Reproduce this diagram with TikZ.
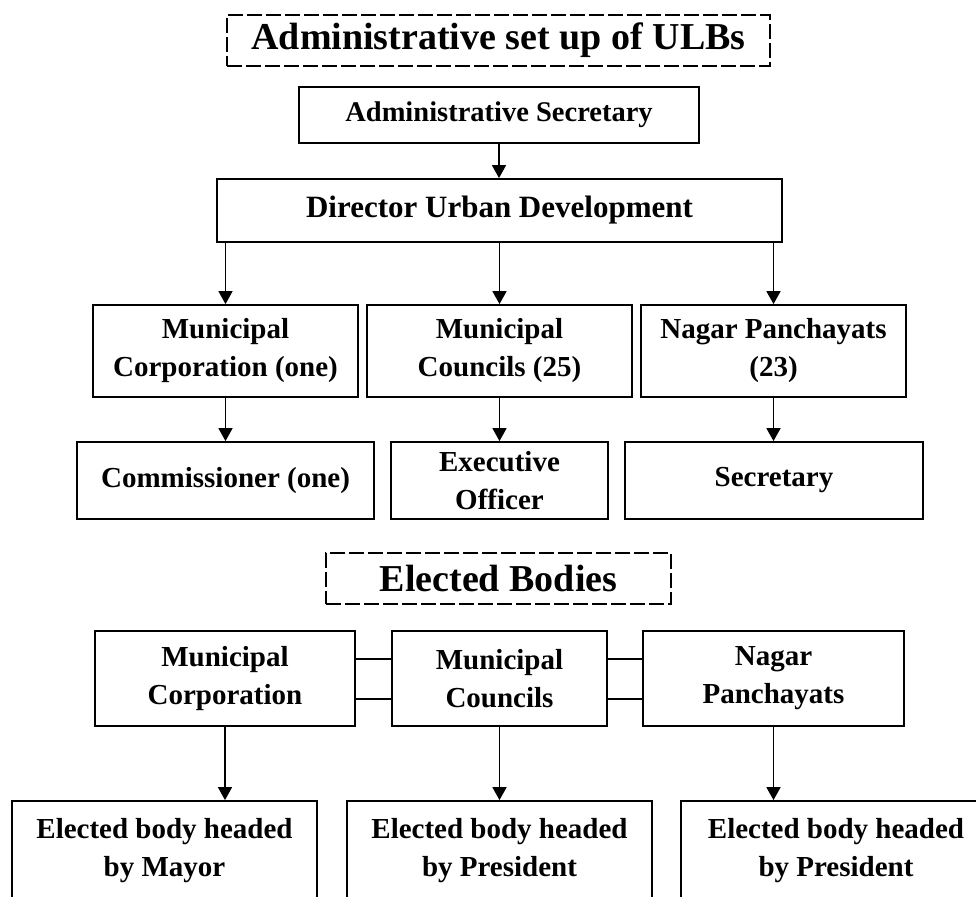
\documentclass[tikz,border=0pt]{standalone}
\usepackage{fontspec}
\setmainfont{Liberation Serif}
\usetikzlibrary{arrows.meta}
\tikzset{
  box/.style={draw, line width=1.8pt, inner sep=0pt, align=center,
    font=\fontsize{29}{38}\selectfont\bfseries},
  head/.style={draw, line width=1.2pt, dash pattern=on 15pt off 4pt, inner sep=0pt,
    font=\fontsize{38}{44}\selectfont\bfseries},
  arr/.style={line width=1.6pt, -{Triangle[length=13pt,width=14pt]}},
  link/.style={line width=1.6pt},
}
\begin{document}
\begin{tikzpicture}[x=1pt,y=-1pt]
\clip (0,0) rectangle (976,896);
\fill[white] (0,0) rectangle (976,896);
% headings
\node[head, minimum width=543pt, minimum height=51pt] (title) at (498.5,40.5) {Administrative set up of ULBs};
\node[head, minimum width=345pt, minimum height=51pt] (elected) at (498.5,578.5) {Elected Bodies};
% administration
\node[box, minimum width=400pt, minimum height=56pt, font=\fontsize{28.5}{38}\selectfont\bfseries] (adsec) at (499,115) {Administrative Secretary};
\node[box, minimum width=565pt, minimum height=63pt, font=\fontsize{31}{38}\selectfont\bfseries] (dir) at (499.5,210.5) {Director Urban Development};
\node[box, minimum width=265pt, minimum height=92pt] (mc3) at (225.5,351) {Municipal\\Corporation (one)};
\node[box, minimum width=265pt, minimum height=92pt] (mco3) at (499.5,351) {Municipal\\Councils (25)};
\node[box, minimum width=265pt, minimum height=92pt] (np3) at (773.5,351) {Nagar Panchayats\\(23)};
\node[box, minimum width=297pt, minimum height=77pt] (com) at (225.5,480.5) {Commissioner (one)};
\node[box, minimum width=217pt, minimum height=77pt] (exo) at (499.5,480.5) {Executive\\Officer};
\node[box, minimum width=298pt, minimum height=77pt] (sec) at (774,480.5) {Secretary};
% elected bodies
\node[box, minimum width=260pt, minimum height=95pt] (mc5) at (225,678.5) {Municipal\\Corporation};
\node[box, minimum width=215pt, minimum height=95pt] (mco5) at (499.5,678.5) {Municipal\\Councils};
\node[box, minimum width=261pt, minimum height=95pt] (np5) at (773.5,678.5) {Nagar\\Panchayats};
\node[box, minimum width=305pt, minimum height=100pt] (may) at (164.5,851) {Elected body headed\\by Mayor};
\node[box, minimum width=305pt, minimum height=100pt] (pres1) at (499.5,851) {Elected body headed\\by President};
\node[box, minimum width=310pt, minimum height=100pt] (pres2) at (836,851) {Elected body headed\\by President};
% arrows
\draw[arr] (adsec.south) -- (adsec.south |- dir.north);
\draw[arr] (dir.south -| mc3.north) -- (mc3.north);
\draw[arr] (dir.south -| mco3.north) -- (mco3.north);
\draw[arr] (dir.south -| np3.north) -- (np3.north);
\draw[arr] (mc3.south) -- (mc3.south |- com.north);
\draw[arr] (mco3.south) -- (mco3.south |- exo.north);
\draw[arr] (np3.south) -- (np3.south |- sec.north);
\draw[arr] (mc5.south) -- (mc5.south |- may.north);
\draw[arr] (mco5.south) -- (mco5.south |- pres1.north);
\draw[arr] (np5.south) -- (np5.south |- pres2.north);
% links between elected bodies
\draw[link] ([yshift=19.5pt]mc5.east) -- ([yshift=19.5pt]mco5.west);
\draw[link] ([yshift=-20.5pt]mc5.east) -- ([yshift=-20.5pt]mco5.west);
\draw[link] ([yshift=19.5pt]mco5.east) -- ([yshift=19.5pt]np5.west);
\draw[link] ([yshift=-20.5pt]mco5.east) -- ([yshift=-20.5pt]np5.west);
\end{tikzpicture}
\end{document}
